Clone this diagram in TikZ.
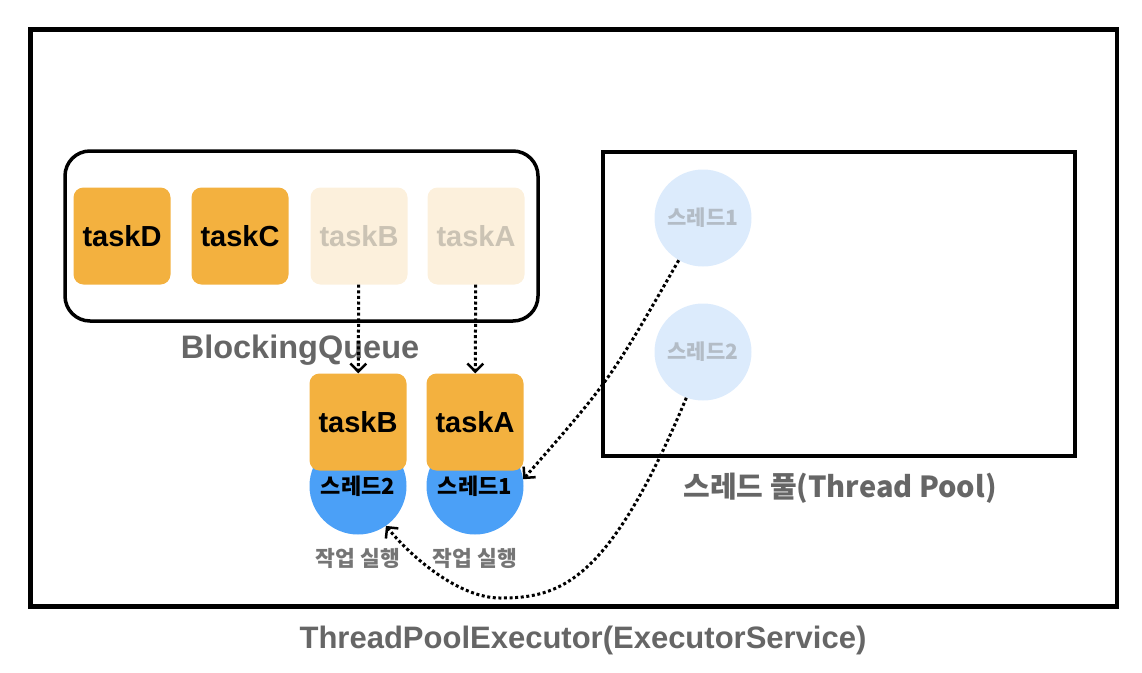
\documentclass[tikz,border=0pt]{standalone}
\usepackage{fontspec}
\setmainfont{Liberation Sans}
\newfontfamily\kr{Noto Sans CJK KR}
\usetikzlibrary{arrows.meta}
\definecolor{taskorange}{HTML}{F3B13F}
\definecolor{taskfade}{HTML}{FCF0DC}
\definecolor{taskfadetext}{HTML}{CBC3B4}
\definecolor{threadblue}{HTML}{4BA0F7}
\definecolor{threadfade}{HTML}{DCEBFC}
\definecolor{threadfadetext}{HTML}{B3BCC6}
\definecolor{labelgray}{HTML}{666666}
\begin{document}
\begin{tikzpicture}[x=1pt,y=-1pt,
    task/.style={fill=taskorange,rounded corners=10pt,minimum size=97pt,inner sep=0pt,
      font=\bfseries\fontsize{29}{34}\selectfont},
    oldtask/.style={task,fill=taskfade,text=taskfadetext},
    thread/.style={circle,fill=threadblue,minimum size=97pt,inner sep=0pt,
      font=\kr\bfseries\fontsize{22}{26}\selectfont},
    oldthread/.style={thread,fill=threadfade,text=threadfadetext,
      font=\kr\bfseries\fontsize{21}{25}\selectfont},
    caption/.style={text=labelgray,font=\bfseries\fontsize{32.5}{38}\selectfont},
    krcaption/.style={text=labelgray,font=\kr\bfseries\fontsize{29}{34}\selectfont},
    runcaption/.style={text=labelgray!90,font=\kr\bfseries\fontsize{21.5}{26}\selectfont},
    flow/.style={line width=3pt,dash pattern=on 3pt off 2.6pt,
      -{Straight Barb[length=8pt,width=16pt,line width=2.5pt]}}]
  \useasboundingbox (0,0) rectangle (1142,672);
  \draw[line width=4.5pt] (30.5,29.5) rectangle (1117,606.5);
  \draw[line width=3.5pt,rounded corners=25pt] (65,151) rectangle (538,321);
  \draw[line width=4.5pt] (603,152) rectangle (1075,456);
  \draw
    (122,236) node[task] (queueD){taskD}
    (240,236) node[task] (queueC){taskC}
    (359,236) node[oldtask] (queueB){taskB}
    (476,236) node[oldtask] (queueA){taskA}
    (703,218) node[oldthread] (pool1){스레드1}
    (703,352) node[oldthread] (pool2){스레드2}
    (358,486) node[thread] (thread2){스레드2}
    (475,486) node[thread] (thread1){스레드1}
    (358,422) node[task] (runB){taskB}
    (475,422) node[task] (runA){taskA}
    (358,558) node[runcaption] (work2){작업 실행}
    (475,558) node[runcaption] (work1){작업 실행}
    (300,350) node[caption] (queuelabel){BlockingQueue}
    (840,488) node[krcaption] (poollabel){스레드 풀(Thread Pool)}
    (583,640) node[caption,font=\bfseries\fontsize{31}{36}\selectfont] (executorlabel){ThreadPoolExecutor(ExecutorService)};
  \begin{scope}[flow]
    \draw (queueB) -- (runB);
    \draw (queueA) -- (runA);
    \draw (pool1) .. controls (610,380) .. (thread1.8);
    \draw (pool2.250) .. controls (609,583) and (560,598) .. (500,598)
      .. controls (460,598) and (413,559) .. (thread2.-55);
  \end{scope}
\end{tikzpicture}
\end{document}
